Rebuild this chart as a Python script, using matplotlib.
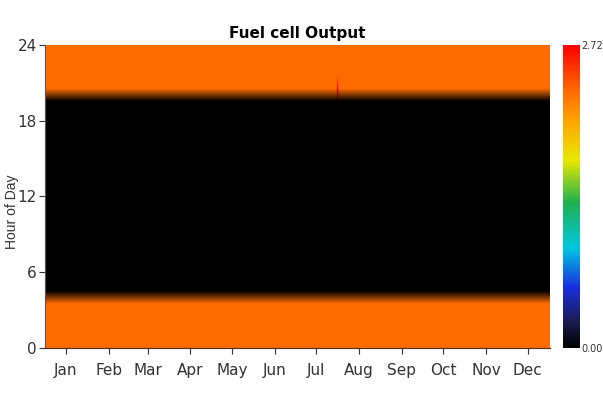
import numpy as np
import matplotlib.pyplot as plt
from matplotlib.colors import LinearSegmentedColormap

# fuel cell output (kW) per hour of day, same every day of the year
hourly_output = [2.30, 2.30, 2.30, 2.30, 0.0, 0.0, 0.0, 0.0, 0.0, 0.0, 0.0, 0.0,
                 0.0, 0.0, 0.0, 0.0, 0.0, 0.0, 0.0, 0.0, 2.30, 2.30, 2.30, 2.30]
n_days = 365
# one odd day with a peak at the evening start
spike_day = 211
spike_hour = 20
spike_value = 2.72

month_labels = ['Jan', 'Feb', 'Mar', 'Apr', 'May', 'Jun',
                'Jul', 'Aug', 'Sep', 'Oct', 'Nov', 'Dec']
month_mid_days = [15, 46, 74, 105, 135, 166, 196, 227, 258, 288, 319, 349]

data = np.tile(np.array(hourly_output)[:, None], (1, n_days))
data[spike_hour, spike_day] = spike_value

cmap = LinearSegmentedColormap.from_list('homer', [
    (0.0, '#000000'), (0.08, '#1a1a4a'), (0.2, '#1a2ee0'), (0.33, '#00c8e0'),
    (0.48, '#1fb050'), (0.62, '#e8e800'), (0.75, '#ffa500'), (0.85, '#ff6a00'),
    (1.0, '#ff0000')])

narrow = ['Liberation Sans Narrow', 'DejaVu Sans Condensed', 'DejaVu Sans']

fig = plt.figure(figsize=(6.03, 4.01), dpi=100)
ax = fig.add_axes([0.075, 0.132, 0.837, 0.756])
im = ax.imshow(data, origin='lower', aspect='auto', cmap=cmap, vmin=0, vmax=2.72,
               extent=[0, n_days, 0, 24], interpolation='bilinear')

ax.set_yticks([0, 6, 12, 18, 24])
ax.set_yticklabels(['0', '6', '12', '18', '24'], family=narrow, fontsize=11, color='#333333')
ax.set_xticks(month_mid_days)
ax.set_xticklabels(month_labels, family=narrow, fontsize=11, color='#333333')
ax.tick_params(axis='x', length=4, color='#333333', pad=7)
ax.tick_params(axis='y', length=4, color='#333333', pad=2)
ax.set_ylabel('Hour of Day', fontsize=10, color='#333333', family='Liberation Sans')
ax.yaxis.set_label_coords(-0.052, 0.45)
ax.set_title('Fuel cell Output', family=narrow, fontsize=11, fontweight='bold', pad=5)
for s in ['top', 'right']:
    ax.spines[s].set_visible(False)
ax.spines['left'].set_color('#555555')
ax.spines['bottom'].set_color('#5a2a10')

cax = fig.add_axes([0.934, 0.132, 0.028, 0.756])
cb = fig.colorbar(im, cax=cax)
cb.set_ticks([0, 2.72])
cb.set_ticklabels(['0.00', '2.72'], family=narrow, fontsize=7, color='#333333')
cb.ax.tick_params(length=0, pad=1)
cb.outline.set_visible(False)

fig.savefig('out.png', dpi=100)
